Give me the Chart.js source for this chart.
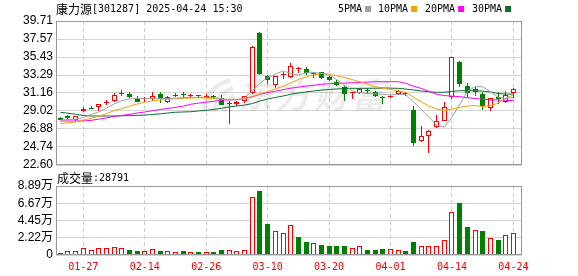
<!DOCTYPE html>
<html>
<head>
<meta charset="utf-8">
<script src="https://cdn.jsdelivr.net/npm/chart.js@4.4.1/dist/chart.umd.min.js"></script>
<style>
  html, body { margin: 0; padding: 0; background: #fff; }
  #wrap { position: relative; width: 578px; height: 276px; overflow: hidden; }
  canvas { position: absolute; left: 0; }
  #kline { top: 0; }
  #vol { top: 170px; }
</style>
</head>
<body>
<div id="wrap">
  <canvas id="kline" width="578" height="180"></canvas>
  <canvas id="vol" width="578" height="106"></canvas>
</div>
<script>
const dates = ['01-22','01-23','01-24','01-27','02-05','02-06','02-07','02-10','02-11','02-12',
  '02-13','02-14','02-17','02-18','02-19','02-20','02-21','02-24','02-25','02-26',
  '02-27','02-28','03-03','03-04','03-05','03-06','03-07','03-10','03-11','03-12',
  '03-13','03-14','03-17','03-18','03-19','03-20','03-21','03-24','03-25','03-26',
  '03-27','03-28','03-31','04-01','04-02','04-03','04-07','04-08','04-09','04-10',
  '04-11','04-14','04-15','04-16','04-17','04-18','04-21','04-22','04-23','04-24'];

const opens = [28.15,28.4,27.9,28.97,29.35,29.52,30.0,30.25,31.0,31.07,
  30.49,30.4,30.49,31.0,30.14,30.75,31.0,30.78,30.8,30.7,
  30.85,30.56,29.8,29.84,30.16,31.15,38.32,33.13,32.06,33.25,
  33.02,33.95,34.0,33.45,33.6,33.02,32.5,31.9,31.15,31.2,
  31.5,31.24,30.65,30.65,31.04,31.05,29.14,25.5,26.0,27.08,
  27.83,30.64,34.84,32.0,31.25,31.03,29.37,30.7,30.05,31.12];
const highs = [28.3,28.5,28.45,29.55,29.65,29.87,30.33,31.2,31.5,31.3,
  30.76,30.72,31.23,31.23,30.8,31.1,31.23,31.0,30.95,31.0,
  30.95,30.87,30.24,30.2,30.85,36.7,38.35,33.33,33.15,33.65,
  34.7,34.3,34.3,33.6,33.7,33.15,32.7,31.98,31.3,31.7,
  31.8,31.45,30.8,30.9,31.5,31.3,29.6,27.23,26.7,28.54,
  30.1,35.45,34.9,32.4,31.9,31.3,30.6,31.3,31.4,31.8];
const lows = [27.9,27.95,27.8,28.95,29.28,29.0,29.67,30.05,30.84,30.57,
  30.12,30.14,30.25,29.98,29.98,30.7,30.56,30.7,30.55,30.65,
  30.5,29.75,27.5,29.56,30.0,31.0,33.3,32.2,31.8,32.8,
  32.95,33.5,33.3,32.9,32.85,32.6,32.0,30.24,30.5,31.0,
  31.0,30.7,29.9,30.6,30.95,30.8,24.9,25.3,24.06,27.0,
  27.8,30.5,31.9,30.7,30.85,29.1,29.05,29.9,30.0,30.6];
const closes = [28.0,28.15,28.4,29.28,29.3,29.83,30.1,30.96,31.2,30.72,
  30.14,30.5,30.84,30.45,30.72,30.92,30.87,30.95,30.75,30.85,
  30.7,29.78,29.88,30.1,30.8,36.66,33.45,32.66,33.13,33.4,
  34.32,34.05,33.5,33.55,32.95,32.7,32.15,31.0,31.25,31.6,
  31.4,30.85,30.55,30.8,31.4,31.15,25.25,26.05,26.65,27.86,
  29.49,35.4,32.26,31.2,31.6,29.61,30.53,30.45,30.92,31.63];

const ma5 = [27.95,28.0,28.03,28.25,28.6,28.9,29.35,29.85,30.25,30.45,
  30.52,30.52,30.52,30.52,30.5,30.55,30.6,30.64,30.64,30.64,
  30.6,30.45,30.35,30.32,30.55,31.4,32.3,33.0,33.4,33.77,
  33.5,33.3,33.55,33.57,33.5,33.3,32.75,32.1,31.4,31.2,
  31.1,31.05,31.0,30.92,31.0,30.95,30.1,29.18,28.27,27.35,
  27.1,28.29,29.76,31.35,31.9,31.9,31.3,30.65,30.52,30.64];
const ma10 = [27.55,27.62,27.72,27.95,28.15,28.38,28.7,29.05,29.3,29.6,
  29.85,30.05,30.22,30.32,30.4,30.47,30.52,30.55,30.58,30.55,
  30.48,30.42,30.4,30.4,30.45,30.75,31.05,31.35,31.65,31.95,
  32.35,32.75,33.05,33.3,33.48,33.38,33.2,33.0,32.75,32.5,
  32.2,31.9,31.72,31.57,31.4,31.22,30.64,30.1,29.6,29.25,
  29.05,29.25,29.45,29.61,29.66,29.55,29.65,29.95,30.5,30.95];
const ma20 = [27.83,27.83,27.83,27.83,27.9,28.05,28.2,28.38,28.5,28.62,
  28.78,28.9,29.05,29.2,29.32,29.45,29.6,29.82,29.95,30.07,
  30.17,30.3,30.35,30.38,30.5,30.7,31.0,31.2,31.37,31.55,
  31.72,31.85,31.98,32.07,32.2,32.25,32.3,32.33,32.37,32.4,
  32.45,32.5,32.5,32.5,32.5,32.3,31.95,31.7,31.35,31.0,
  30.85,30.78,30.72,30.6,30.5,30.4,30.35,30.32,30.28,30.25];
const ma30 = [28.86,28.75,28.62,28.48,28.42,28.42,28.42,28.42,28.44,28.47,
  28.5,28.53,28.6,28.68,28.78,28.87,28.9,28.93,29.02,29.1,
  29.2,29.35,29.5,29.62,29.72,29.9,30.2,30.45,30.62,30.8,
  31.0,31.15,31.28,31.39,31.5,31.58,31.63,31.68,31.71,31.71,
  31.71,31.72,31.75,31.73,31.71,31.62,31.51,31.4,31.3,31.24,
  31.24,31.35,31.43,31.43,31.43,31.38,31.28,31.1,31.03,31.03];

const volumes = [2600,5150,5150,8600,6400,8600,8600,9900,8600,6400,
  5600,5150,7300,5150,4700,3400,5150,3900,3900,3900,
  3900,6400,6400,5150,6400,74700,82500,40400,30900,28300,
  38600,23200,17200,15500,12900,11600,11600,11600,8600,11200,
  6400,6400,7700,7300,6000,5150,16700,11200,11200,11200,
  18900,55000,67000,36100,31800,30900,21500,19300,25400,28791];

const priceTicks = [22.60, 24.74, 26.88, 29.02, 31.16, 33.29, 35.43, 37.57, 39.71];
const volTicks = [0, 22200, 44500, 66700, 88900];
const dateTickIdx = [3, 11, 19, 27, 35, 43, 51, 59];

const RED = '#ff0000';
const GREEN = '#008000';
const maColors = ['#a0a0a0', '#f4a300', '#ff00ff', '#0b6e32'];

// candle colour: close vs open; volume colour: close vs previous close
const candleUp = closes.map((c, i) => c >= opens[i]);
const volUp = closes.map((c, i) => i === 0 ? c >= opens[0] : c >= closes[i - 1]);

function pts(arr) {
  return arr.map((v, i) => ({ x: i, y: v }));
}

const xScale = {
  type: 'linear',
  min: -0.56,
  max: 60.12,
  offset: false,
  afterBuildTicks: (scale) => { scale.ticks = dateTickIdx.map(v => ({ value: v })); },
  grid: { color: '#cccccc', drawTicks: false, offset: false },
  border: { display: false, dash: [4, 3] }
};

// snap bar elements to whole pixels so the thin borders stay crisp
const snapBars = {
  id: 'snapBars',
  beforeDatasetsDraw(chart) {
    chart.data.datasets.forEach((ds, di) => {
      const meta = chart.getDatasetMeta(di);
      if (meta.type !== 'bar') return;
      meta.data.forEach(el => {
        el.x = Math.floor(el.x) + 0.5;
        el.y = Math.round(el.y);
        el.base = Math.round(el.base);
        if (el.y === el.base) el.base = el.y + 1;
      });
    });
  }
};

const framePlugin = {
  id: 'frame',
  afterDraw(chart) {
    const { ctx, chartArea: a } = chart;
    ctx.save();
    ctx.strokeStyle = '#999999';
    ctx.lineWidth = 1;
    ctx.strokeRect(Math.round(a.left) + 0.5, Math.round(a.top) + 0.5,
      Math.round(a.right - a.left) - 1, Math.round(a.bottom - a.top) - 1);
    ctx.restore();
  }
};

const klineDecor = {
  id: 'klineDecor',
  beforeDatasetsDraw(chart) {
    // faint watermark
    const ctx = chart.ctx;
    ctx.save();
    ctx.fillStyle = 'rgba(0,0,0,0.08)';
    ctx.strokeStyle = 'rgba(0,0,0,0.08)';
    ctx.font = 'italic bold 34px "Noto Sans CJK SC"';
    ctx.textBaseline = 'alphabetic';
    '东方财富'.split('').forEach((ch, k) => ctx.fillText(ch, 238 + k * 38, 108));
    ctx.lineWidth = 5;
    ctx.beginPath();
    ctx.moveTo(204, 110); ctx.quadraticCurveTo(206, 88, 230, 80);
    ctx.moveTo(214, 112); ctx.quadraticCurveTo(216, 94, 233, 88);
    ctx.moveTo(224, 112); ctx.quadraticCurveTo(226, 100, 234, 96);
    ctx.stroke();
    ctx.restore();
  },
  afterDraw(chart) {
    const ctx = chart.ctx;
    ctx.save();
    ctx.fillStyle = '#000';
    ctx.textBaseline = 'middle';
    ctx.font = '12px "Noto Sans CJK SC"';
    ctx.fillText('康力源', 56, 9);
    ctx.font = '10px "DejaVu Sans Mono"';
    ctx.fillText('[301287] 2025-04-24 15:30', 92, 9);

    const items = [['5PMA', 338], ['10PMA', 378], ['20PMA', 425], ['30PMA', 472]];
    items.forEach(([t, x], k) => {
      ctx.fillStyle = '#000';
      ctx.fillText(t, x, 9);
      const w = ctx.measureText(t).width;
      ctx.fillStyle = maColors[k];
      ctx.fillRect(x + w + 3, 6, 6, 6);
    });
    ctx.restore();
  }
};

const volDecor = {
  id: 'volDecor',
  afterDraw(chart) {
    const ctx = chart.ctx;
    ctx.save();
    ctx.fillStyle = '#000';
    ctx.textBaseline = 'middle';
    ctx.font = '12px "Noto Sans CJK SC"';
    ctx.fillText('成交量', 57, 8);
    ctx.font = '10px "DejaVu Sans Mono"';
    ctx.fillText(':' + volumes[volumes.length - 1], 93, 8);
    ctx.restore();
  }
};

new Chart(document.getElementById('kline'), {
  type: 'bar',
  data: {
    datasets: [
      { type: 'line', data: pts(ma5), borderColor: maColors[0], borderWidth: 1, pointRadius: 0, order: 0 },
      { type: 'line', data: pts(ma10), borderColor: maColors[1], borderWidth: 1, pointRadius: 0, order: 0 },
      { type: 'line', data: pts(ma20), borderColor: maColors[2], borderWidth: 1, pointRadius: 0, order: 0 },
      { type: 'line', data: pts(ma30), borderColor: maColors[3], borderWidth: 1, pointRadius: 0, order: 0 },
      {
        type: 'bar',
        data: opens.map((o, i) => ({ x: i, y: [o, closes[i]] })),
        backgroundColor: candleUp.map(u => u ? '#ffffff' : GREEN),
        borderColor: candleUp.map(u => u ? RED : GREEN),
        borderWidth: 1,
        borderSkipped: false,
        inflateAmount: 0,
        minBarLength: 1,
        barThickness: 5,
        grouped: false,
        order: 1
      },
      {
        type: 'bar',
        data: lows.map((l, i) => ({ x: i, y: [l, highs[i]] })),
        backgroundColor: candleUp.map(u => u ? RED : GREEN),
        borderWidth: 0,
        inflateAmount: 0,
        barThickness: 1,
        grouped: false,
        order: 2
      }
    ]
  },
  options: {
    responsive: false,
    animation: false,
    layout: { padding: { top: 21, right: 56, bottom: 15, left: 0 } },
    plugins: { legend: { display: false }, tooltip: { enabled: false } },
    scales: {
      x: Object.assign({}, xScale, {
        ticks: { display: false },
        afterFit: (scale) => { scale.height = 0; }
      }),
      y: {
        min: 22.60,
        max: 39.71,
        afterBuildTicks: (scale) => { scale.ticks = priceTicks.map(v => ({ value: v })); },
        afterFit: (scale) => { scale.width = 56; },
        ticks: {
          callback: v => v.toFixed(2),
          color: '#000',
          padding: 3,
          autoSkip: false,
          font: { family: '"Liberation Sans", Arial', size: 12 }
        },
        grid: { color: '#d4d4d4', drawTicks: false },
        border: { display: false }
      }
    }
  },
  plugins: [snapBars, klineDecor, framePlugin]
});

new Chart(document.getElementById('vol'), {
  type: 'bar',
  data: {
    datasets: [{
      data: pts(volumes),
      backgroundColor: volUp.map(u => u ? '#ffffff' : GREEN),
      borderColor: volUp.map(u => u ? RED : GREEN),
      borderWidth: 1,
      borderSkipped: false,
      inflateAmount: 0,
      barThickness: 5
    }]
  },
  options: {
    responsive: false,
    animation: false,
    layout: { padding: { top: 16, right: 56, bottom: 0, left: 0 } },
    plugins: { legend: { display: false }, tooltip: { enabled: false } },
    scales: {
      x: Object.assign({}, xScale, {
        ticks: {
          callback: v => dates[v],
          color: RED,
          padding: 6,
          autoSkip: false,
          maxRotation: 0,
          font: { family: '"DejaVu Sans Mono"', size: 10 }
        },
        afterFit: (scale) => { scale.height = 21; }
      }),
      y: {
        min: 0,
        max: 88900,
        afterBuildTicks: (scale) => { scale.ticks = volTicks.map(v => ({ value: v })); },
        afterFit: (scale) => { scale.width = 56; },
        ticks: {
          callback: v => v === 0 ? '0' : (v / 10000).toFixed(2) + '万',
          color: '#000',
          padding: 3,
          autoSkip: false,
          font: { family: '"Liberation Sans", "Noto Sans CJK SC"', size: 12 }
        },
        grid: { color: '#d4d4d4', drawTicks: false },
        border: { display: false }
      }
    }
  },
  plugins: [snapBars, volDecor, framePlugin]
});
</script>
</body>
</html>
